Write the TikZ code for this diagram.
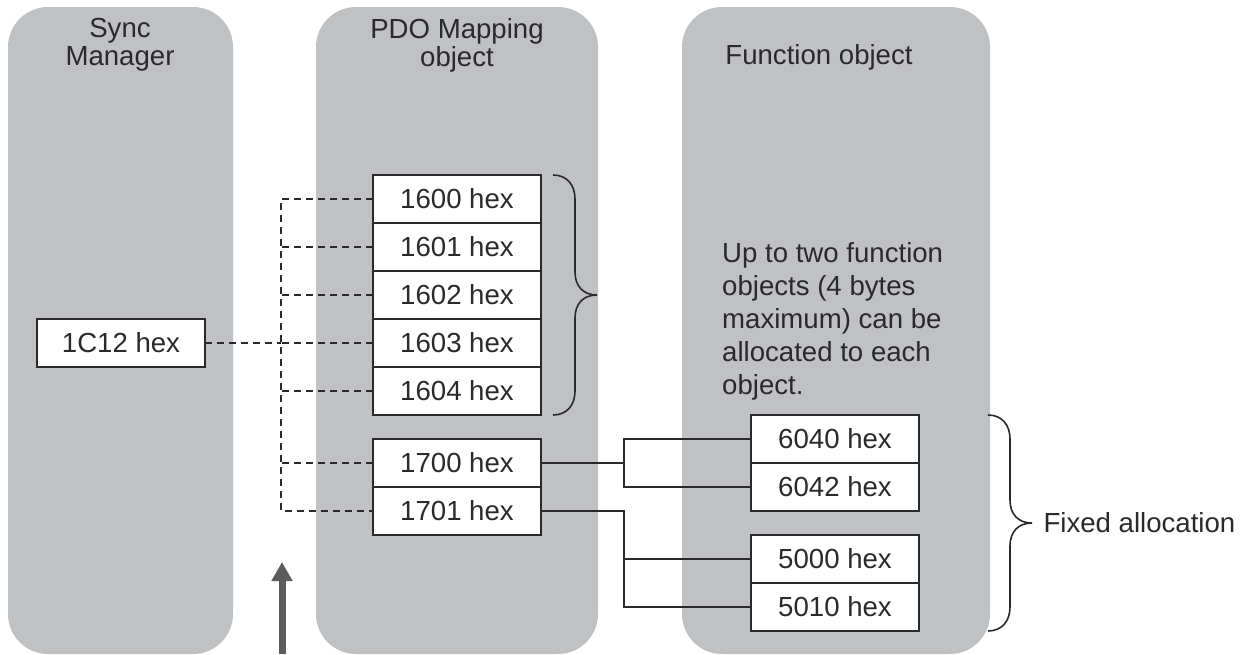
\documentclass[tikz,border=0pt]{standalone}
\usepackage{fontspec}
\setmainfont{Liberation Sans}
\usetikzlibrary{positioning,arrows.meta}
\usepackage{xcolor}
\definecolor{PanelGray}{HTML}{C0C1C3}
\definecolor{InkDark}{HTML}{2A2A2C}
\definecolor{ArrowGray}{HTML}{5B5C5E}

\begin{document}
\begin{tikzpicture}[
      x=1pt, y=-1pt,
      node distance=0pt,
      every node/.style={font=\fontsize{27.6}{28}\selectfont, text=InkDark},
      panel/.style={fill=PanelGray, rounded corners=40pt},
      hexbox/.style={draw=InkDark, fill=white, line width=1.4pt, minimum width=168pt, minimum height=48pt, inner sep=0pt, outer sep=0pt},
      dashline/.style={draw=InkDark, line width=1.6pt, dash pattern=on 7pt off 5pt},
      wire/.style={draw=InkDark, line width=1.4pt},
      curly/.style={draw=InkDark, line width=1.6pt}
    ]
    \useasboundingbox (0,0) rectangle (1250,654);

    % columns
    \fill[panel] (8,7) rectangle (233,654);
    \fill[panel] (316,7) rectangle (598,654);
    \fill[panel] (682,7) rectangle (990,654);

    \node[align=center] (sync) at (120,45) {Sync\\Manager};
    \node[align=center] (pdo) at (457,45) {PDO Mapping\\object};
    \node (func) at (819,57) {Function object};

    % objects
    \node[hexbox] (b1C12) at (121,343) {1C12 hex};
    \node[hexbox] (b1600) at (457,199) {1600 hex};
    \node[hexbox, below=of b1600] (b1601) {1601 hex};
    \node[hexbox, below=of b1601] (b1602) {1602 hex};
    \node[hexbox, below=of b1602] (b1603) {1603 hex};
    \node[hexbox, below=of b1603] (b1604) {1604 hex};
    \node[hexbox] (b1700) at (457,463) {1700 hex};
    \node[hexbox, below=of b1700] (b1701) {1701 hex};
    \node[hexbox] (b6040) at (835,439) {6040 hex};
    \node[hexbox, below=of b6040] (b6042) {6042 hex};
    \node[hexbox] (b5000) at (835,559) {5000 hex};
    \node[hexbox, below=of b5000] (b5010) {5010 hex};

    \node[anchor=north west, align=left, inner sep=0pt, font=\fontsize{27.6}{33}\selectfont] (note) at (722,242)
      {Up to two function\\objects (4 bytes\\maximum) can be\\allocated to each\\object.};
    \node[anchor=west] (fixed) at (1040,523) {Fixed allocation};

    % sync manager links
    \draw[dashline] (b1600.west) -- ++(-92,0) coordinate (trunk) -- (trunk |- b1701.west) -- (b1701.west);
    \foreach \b in {b1601,b1602,b1603,b1604,b1700}
      \draw[dashline] (\b.west) -- (trunk |- \b.west);
    \draw[dashline, line width=2.4pt] (b1C12.east) -- (trunk |- b1C12.east);

    % fixed mapping
    \draw[wire] (b1700.east) -- ++(83,0) coordinate (j1) |- (b6040.west);
    \draw[wire] (j1) |- (b6042.west);
    \draw[wire] (b1701.east) -- ++(83,0) coordinate (j2) |- (b5000.west);
    \draw[wire] (j2) |- (b5010.west);

    % braces
    \draw[curly] (553,175) .. controls (567,175) and (575,185) .. (575,199) -- (575,272)
      .. controls (575,286) and (583,295) .. (597,295)
      .. controls (583,295) and (575,304) .. (575,318) -- (575,391)
      .. controls (575,405) and (567,415) .. (553,415);
    \draw[curly] (988,415) .. controls (1002,415) and (1010,425) .. (1010,439) -- (1010,500)
      .. controls (1010,514) and (1018,523) .. (1032,523)
      .. controls (1018,523) and (1010,532) .. (1010,546) -- (1010,607)
      .. controls (1010,621) and (1002,631) .. (988,631);

    \coordinate (arrowfoot) at (282,654);
    \coordinate (arrowtip) at (282,562);
    \draw[ArrowGray, line width=7pt, -{Triangle[width=20pt,length=19pt]}] (arrowfoot) -- (arrowtip);
  \end{tikzpicture}
\end{document}
